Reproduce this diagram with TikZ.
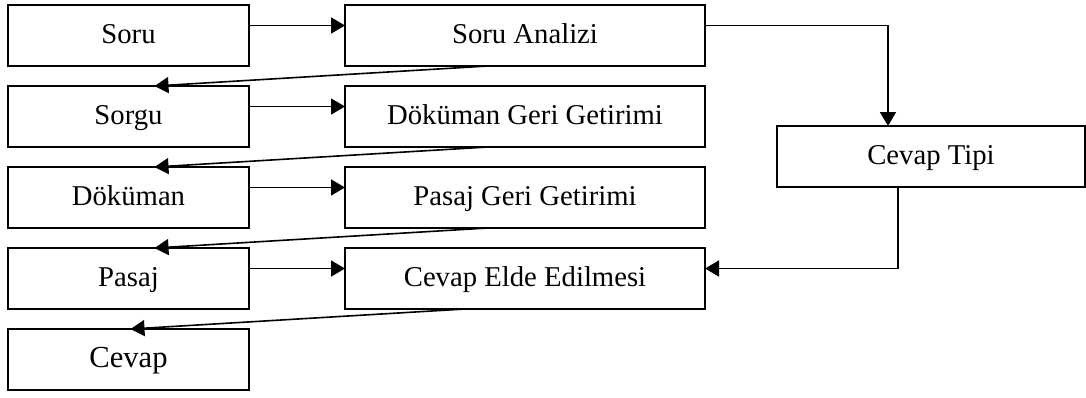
\documentclass[tikz,border=0pt]{standalone}
\usepackage{fontspec}
\setmainfont{Liberation Serif}
\usetikzlibrary{
  chains,
  positioning,
  arrows.meta
}

\begin{document}
\begin{tikzpicture}[
  line width=1pt,
  font=\fontsize{14.35}{17}\selectfont,
  leftbox/.style={
     rectangle,
     draw,
     outer sep=0pt,
     text height=11pt,
     text depth=3.5pt,
     minimum width=120.5pt,
     minimum height=30.5pt
  },
  midbox/.style={
     leftbox,
     minimum width=180pt
  },
  tipbox/.style={
     leftbox,
     minimum width=154pt
  },
  flow/.style={-{Triangle[length=7pt,width=8pt]}, line width=.8pt},
  start chain=going below,
  node distance=10pt and 48pt
]
   \useasboundingbox (0,0) rectangle (543pt,-198.5pt);

   % The left column on the chain
   \node[leftbox,on chain,anchor=north west] (soru) at (4pt,-2.5pt) {Soru};
   \node[leftbox,on chain] (sorgu) {Sorgu};
   \node[leftbox,on chain] (dokuman) {Döküman};
   \node[leftbox,on chain] (pasaj) {Pasaj};
   \node[leftbox,on chain,font=\fontsize{15.3}{18}\selectfont] (cevap) {Cevap};

   % The middle column and the answer type
   \node[midbox,right=of soru] (analiz) {Soru Analizi};
   \node[midbox,right=of sorgu] (dgg) {Döküman Geri Getirimi};
   \node[midbox,right=of dokuman] (pgg) {Pasaj Geri Getirimi};
   \node[midbox,right=of pasaj] (elde) {Cevap Elde Edilmesi};
   \node[tipbox,right=36pt of dgg.south east,yshift=-4.75pt] (tipi) {Cevap Tipi};

   % The horizontal arrows
   \draw[flow] ([yshift=5pt]soru.east) -- ([yshift=5pt]analiz.west);
   \draw[flow] ([yshift=5pt]sorgu.east) -- ([yshift=5pt]dgg.west);
   \draw[flow] ([yshift=5pt]dokuman.east) -- ([yshift=5pt]pgg.west);
   \draw[flow] ([yshift=5pt]pasaj.east) -- ([yshift=5pt]elde.west);

   % The arrows going back to the left
   \draw[flow] ([xshift=-18.5pt]analiz.south) -- ([xshift=13pt]sorgu.north);
   \draw[flow] ([xshift=-18.5pt]dgg.south) -- ([xshift=13pt]dokuman.north);
   \draw[flow] ([xshift=-18.5pt]pgg.south) -- ([xshift=13pt]pasaj.north);
   \draw[flow] ([xshift=-30pt]elde.south) -- ([xshift=1pt]cevap.north);

   % Round the answer type
   \draw[flow] ([yshift=5pt]analiz.east) -| ([xshift=-21.5pt]tipi.north);
   \draw[flow] ([xshift=-16.5pt]tipi.south) |- ([yshift=5pt]elde.east);
\end{tikzpicture}
\end{document}
